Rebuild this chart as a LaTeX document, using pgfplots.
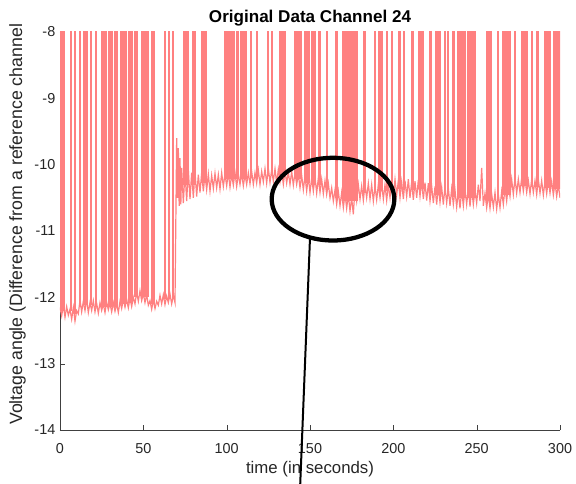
\documentclass[border=0pt]{standalone}
\usepackage{fontspec}
\setmainfont{Liberation Sans}
\usepackage{pgfplots}
\pgfplotsset{compat=1.18}
\definecolor{sig}{HTML}{FF8080}
\definecolor{axgray}{HTML}{404040}
% one spike band: from #1 to #2 (seconds), rising from the local level #3
\newcommand{\spk}[3]{\addplot[draw=sig, fill=sig, line width=0.3pt, forget plot] coordinates {(#1,#3) (#1,-7.5) (#2,-7.5) (#2,#3)};}

\begin{document}
\begin{tikzpicture}
\begin{axis}[
    width=375pt, height=298.5pt,
    scale only axis,
    xmin=0, xmax=300,
    ymin=-14, ymax=-8,
    axis x line*=bottom,
    axis y line*=left,
    axis line style={axgray, -},
    tick style={axgray},
    tick align=inside,
    major tick length=4pt,
    xtick={0,50,100,150,200,250,300},
    xticklabels={0,50,100,150,200,250,300},
    ytick={-14,-13,-12,-11,-10,-9,-8},
    yticklabels={-14,-13,-12,-11,-10,-9,-8},
    tick label style={font=\fontsize{10.8}{12}\selectfont, text=black!85},
    xticklabel style={yshift=-6.5pt},
    title={Original Data Channel 24},
    title style={font=\fontsize{12.8}{14}\selectfont\bfseries, yshift=-5.5pt},
    xlabel={time (in seconds)},
    xlabel style={font=\fontsize{12.6}{14}\selectfont, text=black!85, yshift=1pt},
    ylabel={Voltage angle (Difference from a reference channel},
    ylabel style={font=\fontsize{13.3}{15}\selectfont, text=black!85,
        at={(axis description cs:-0.068,0.0126)}, anchor=south west, inner sep=0pt},
    clip mode=individual,
]
% spike bands
\spk{0}{2.6}{-12.2}
\spk{6.3}{6.9}{-12.2}
\spk{8.7}{9.3}{-12.25}
\spk{11.4}{12}{-12.15}
\spk{13.8}{14.4}{-12.12}
\spk{15.3}{16.5}{-12.12}
\spk{18.3}{18.9}{-12.12}
\spk{21.3}{21.9}{-12.15}
\spk{24.9}{25.8}{-12.15}
\spk{26.4}{27.9}{-12.15}
\spk{29.1}{31.5}{-12.15}
\spk{32.7}{34.5}{-12.15}
\spk{36.3}{37.8}{-12.1}
\spk{38.4}{39.9}{-12.1}
\spk{41.1}{43.5}{-12.08}
\spk{44.7}{46.5}{-12.0}
\spk{48.9}{50.4}{-12.0}
\spk{51}{51.6}{-12.0}
\spk{52.2}{53.1}{-12.0}
\spk{54.9}{56.7}{-12.1}
\spk{62.7}{63.3}{-12.03}
\spk{65.1}{65.7}{-12.03}
\spk{67.5}{68.1}{-12.03}
\spk{74.1}{77.1}{-10.3}
\spk{79.5}{81.3}{-10.3}
\spk{84.9}{87.9}{-10.27}
\spk{98.7}{104.7}{-10.22}
\spk{105.9}{107.1}{-10.22}
\spk{108.3}{111.9}{-10.22}
\spk{114}{114.6}{-10.2}
\spk{117.9}{118.5}{-10.2}
\spk{124.5}{125.1}{-10.17}
\spk{126.9}{127.5}{-10.17}
\spk{131.7}{135.3}{-10.18}
\spk{140.7}{144.9}{-10.22}
\spk{146.7}{149.7}{-10.28}
\spk{150.9}{153.3}{-10.3}
\spk{155.1}{156.3}{-10.3}
\spk{159.6}{160.2}{-10.35}
\spk{165.3}{166.5}{-10.5}
\spk{169.5}{178.5}{-10.55}
\spk{182.1}{183.3}{-10.42}
\spk{188.7}{189.3}{-10.42}
\spk{191.1}{193.5}{-10.4}
\spk{195.9}{196.5}{-10.4}
\spk{198.9}{199.5}{-10.37}
\spk{203.1}{204.3}{-10.36}
\spk{205.8}{206.4}{-10.38}
\spk{210.9}{212.1}{-10.38}
\spk{215.1}{218.1}{-10.37}
\spk{221.7}{222.9}{-10.42}
\spk{225.3}{228.3}{-10.45}
\spk{230.7}{231.3}{-10.46}
\spk{232.5}{233.1}{-10.47}
\spk{235.5}{236.7}{-10.48}
\spk{238.5}{243.3}{-10.5}
\spk{244.5}{249.3}{-10.5}
\spk{255.9}{258.9}{-10.55}
\spk{262.5}{263.1}{-10.55}
\spk{265.5}{270.3}{-10.45}
\spk{272.7}{273.3}{-10.32}
\spk{276.9}{280.5}{-10.32}
\spk{282.6}{283.2}{-10.33}
\spk{285.9}{287.1}{-10.33}
\spk{290.7}{294.3}{-10.35}
\spk{296.1}{300}{-10.37}
% noisy level
\addplot[sig, line width=0.9pt] coordinates {
(0,-12.15) (1,-12.28) (2,-12.12) (3,-12.3) (4,-12.14) (5,-12.27) (6,-12.18) (7,-12.33) (8,-12.15) (9,-12.36)
(10,-12.2) (11,-12.25) (12,-12.04) (13,-12.22) (14,-12.06) (15,-12.2) (16,-12.03) (17,-12.23) (18,-12.08) (19,-12.2)
(20,-12.05) (21,-12.22) (22,-12.09) (23,-12.24) (24,-12.08) (25,-12.2) (26,-12.1) (27,-12.23) (28,-12.07) (29,-12.19)
(30,-12.09) (31,-12.22) (32,-12.08) (33,-12.21) (34,-12.1) (35,-12.23) (36,-12.06) (37,-12.17) (38,-12.02) (39,-12.15)
(40,-12.03) (41,-12.16) (42,-12.01) (43,-12.14) (44,-12.0) (45,-12.1) (46,-11.92) (47,-12.06) (48,-11.9) (49,-12.05)
(50,-11.94) (51,-12.08) (52,-11.96) (53,-12.12) (54,-12.05) (55,-12.18) (56,-12.04) (57,-12.17) (58,-12.06) (59,-12.12)
(60,-11.97) (61,-12.1) (62,-11.96) (63,-12.11) (64,-11.98) (65,-12.08) (66,-11.95) (67,-12.1) (68,-11.97) (69,-12.08)
(69.6,-10.6) (70,-9.6) (70.5,-10.5) (71,-9.75) (71.5,-10.62) (72,-9.9) (72.5,-10.6) (73,-10.05) (74,-10.58) (75,-10.1)
(76,-10.55) (77,-10.08) (78,-10.52) (79,-10.12) (80,-10.5) (81,-10.1) (82,-10.48) (83,-10.15) (84,-10.42) (85,-10.12)
(86,-10.4) (87,-10.15) (88,-10.38) (89,-10.14) (90,-10.4) (91,-10.16) (92,-10.36) (93,-10.13) (94,-10.35) (95,-10.15)
(96,-10.37) (97,-10.12) (98,-10.33) (99,-10.14) (100,-10.32) (101,-10.12) (102,-10.34) (103,-10.15) (104,-10.31) (105,-10.12)
(106,-10.33) (107,-10.14) (108,-10.3) (109,-10.13) (110,-10.32) (111,-10.15) (112,-10.3) (113,-10.12) (114,-10.29) (115,-10.1)
(116,-10.3) (117,-10.12) (118,-10.28) (119,-10.08) (120,-10.3) (121,-10.1) (122,-10.26) (123,-10.06) (124,-10.28) (125,-10.05)
(126,-10.27) (127,-10.08) (128,-10.25) (129,-10.06) (130,-10.28) (131,-10.07) (132,-10.26) (133,-10.1) (134,-10.3) (135,-10.09)
(136,-10.28) (137,-10.11) (138,-10.3) (139,-10.1) (140,-10.31) (141,-10.12) (142,-10.3) (143,-10.14) (144,-10.35) (145,-10.16)
(146,-10.38) (147,-10.17) (148,-10.4) (149,-10.18) (150,-10.42) (151,-10.2) (152,-10.4) (153,-10.18) (154,-10.43) (155,-10.2)
(156,-10.42) (157,-10.22) (158,-10.44) (159,-10.24) (160,-10.45) (161,-10.28) (162,-10.5) (163,-10.35) (164,-10.55) (165,-10.38)
(166,-10.6) (167,-10.4) (168,-10.62) (169,-10.42) (170,-10.65) (171,-10.44) (172,-10.66) (173,-10.45) (174,-10.7) (175,-10.5)
(176,-10.75) (177,-10.35) (178,-10.55) (179,-10.3) (180,-10.52) (181,-10.32) (182,-10.54) (183,-10.3) (184,-10.5) (185,-10.28)
(186,-10.52) (187,-10.3) (188,-10.55) (189,-10.32) (190,-10.53) (191,-10.3) (192,-10.5) (193,-10.28) (194,-10.52) (195,-10.3)
(196,-10.54) (197,-10.3) (198,-10.5) (199,-10.25) (200,-10.48) (201,-10.22) (202,-10.46) (203,-10.24) (204,-10.5) (205,-10.26)
(206,-10.52) (207,-10.24) (208,-10.48) (209,-10.22) (210,-10.5) (211,-10.26) (212,-10.53) (213,-10.25) (214,-10.5) (215,-10.23)
(216,-10.48) (217,-10.25) (218,-10.52) (219,-10.27) (220,-10.54) (221,-10.28) (222,-10.55) (223,-10.32) (224,-10.58) (225,-10.33)
(226,-10.6) (227,-10.32) (228,-10.57) (229,-10.34) (230,-10.6) (231,-10.33) (232,-10.58) (233,-10.35) (234,-10.62) (235,-10.36)
(236,-10.6) (237,-10.38) (238,-10.64) (239,-10.4) (240,-10.66) (241,-10.38) (242,-10.62) (243,-10.36) (244,-10.6) (245,-10.35)
(246,-10.63) (247,-10.37) (248,-10.6) (249,-10.38) (250,-10.58) (251,-10.3) (252,-10.55) (253,-10.05) (254,-10.62) (255,-10.43)
(256,-10.65) (257,-10.45) (258,-10.66) (259,-10.44) (260,-10.64) (261,-10.42) (262,-10.67) (263,-10.45) (264,-10.65) (265,-10.4)
(266,-10.6) (267,-10.35) (268,-10.55) (269,-10.3) (270,-10.48) (271,-10.22) (272,-10.45) (273,-10.2) (274,-10.43) (275,-10.22)
(276,-10.42) (277,-10.2) (278,-10.4) (279,-10.22) (280,-10.42) (281,-10.24) (282,-10.44) (283,-10.22) (284,-10.42) (285,-10.24)
(286,-10.45) (287,-10.22) (288,-10.43) (289,-10.24) (290,-10.46) (291,-10.25) (292,-10.44) (293,-10.23) (294,-10.43) (295,-10.25)
(296,-10.46) (297,-10.27) (298,-10.48) (299,-10.3) (300,-10.5)
};
% annotation
\draw[black, line width=3.2pt] (axis cs:163.8,-10.52) ellipse [x radius=46pt, y radius=31pt];
\draw[black, line width=1.5pt] (axis cs:150,-11.1) -- (axis cs:144,-14.9);
\coordinate (bbA) at (axis description cs:-0.12,-0.1332);
\coordinate (bbB) at (axis description cs:1.032,1.0804);
\end{axis}
\pgfresetboundingbox
\path[use as bounding box] (bbA) rectangle (bbB);
\end{tikzpicture}
\end{document}
